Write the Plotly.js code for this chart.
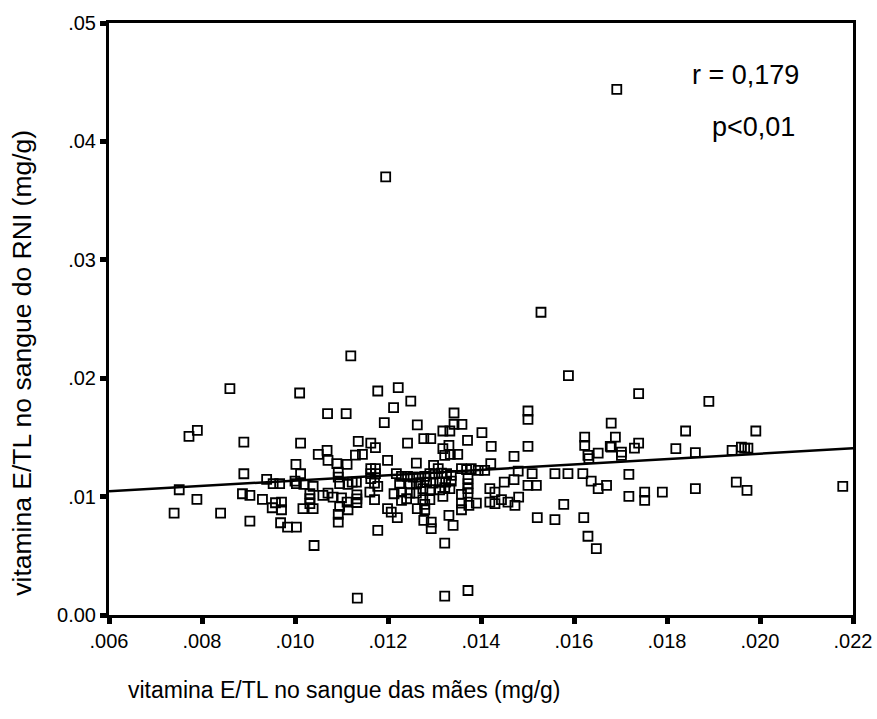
<!DOCTYPE html>
<html>
<head>
<meta charset="utf-8">
<script src="https://cdn.plot.ly/plotly-3.0.1.min.js"></script>
<style>
  html, body { margin: 0; padding: 0; background: #fff; }
  #chart { width: 877px; height: 719px; }
</style>
</head>
<body>
<div id="chart"></div>
<script>
// Maternal vitamin E/TL (mg/g)
const maesX = [
  0.00751,0.00789,0.00740,0.00840,0.00790,0.00772,0.00860,0.00890,0.00890,0.00887,
  0.00903,0.00903,0.00939,0.00953,0.00930,0.00958,0.00951,0.00967,0.00971,0.00969,
  0.00971,0.00984,0.01003,
  0.01010,0.01070,0.01110,0.01120,0.01012,0.01050,0.01069,0.01071,0.01090,0.01112,
  0.01002,0.01012,0.01093,0.01093,0.01000,0.01003,0.01019,0.01039,0.01096,0.01114,
  0.01123,0.01032,0.01032,0.01032,0.01060,0.01071,0.01082,0.01100,0.01017,0.01039,
  0.01096,0.01114,0.01093,0.01093,0.01041,
  0.01136,0.01163,0.01173,0.01242,0.01130,0.01145,0.01199,0.01261,0.01163,0.01173,
  0.01163,0.01173,0.01163,0.01218,0.01229,0.01242,0.01254,0.01266,0.01132,0.01171,
  0.01178,0.01225,0.01247,0.01261,0.01161,0.01213,0.01229,0.01247,0.01261,0.01133,
  0.01133,0.01133,0.01112,0.01171,0.01229,0.01240,0.01199,0.01207,0.01220,0.01178,
  0.01263,0.01178,0.01222,0.01249,0.01212,0.01192,0.01263,0.01134,0.01322,0.01372,
  0.01277,0.01292,0.01318,0.01331,0.01371,0.01342,0.01342,0.01359,0.01318,0.01333,
  0.01402,0.01322,0.01334,0.01350,0.01298,0.01308,0.01358,0.01369,0.01379,0.01279,
  0.01290,0.01301,0.01315,0.01326,0.01336,0.01270,0.01283,0.01297,0.01311,0.01324,
  0.01336,0.01275,0.01290,0.01311,0.01322,0.01333,0.01372,0.01372,0.01372,0.01372,
  0.01358,0.01318,0.01275,0.01290,0.01279,0.01279,0.01358,0.01374,0.01390,0.01358,
  0.01331,0.01340,0.01277,0.01293,0.01293,0.01322,
  0.01422,0.01501,0.01501,0.01501,0.01529,0.01471,0.01421,0.01394,0.01408,0.01480,
  0.01510,0.01450,0.01471,0.01501,0.01519,0.01419,0.01430,0.01419,0.01430,0.01444,
  0.01458,0.01473,0.01481,0.01521,
  0.01588,0.01623,0.01623,0.01630,0.01632,0.01652,0.01678,0.01559,0.01587,0.01619,
  0.01637,0.01652,0.01670,0.01578,0.01559,0.01621,0.01630,0.01648,0.01739,0.01890,
  0.01680,0.01840,0.01991,0.01689,0.01680,0.01702,0.01702,0.01739,0.01730,0.01819,
  0.01861,0.01940,0.01960,0.01967,0.01974,0.01718,0.01718,0.01752,0.01752,0.01790,
  0.01861,0.01949,0.01972,0.02178,0.01692,0.01195
];
// Newborn (RNI) vitamin E/TL (mg/g)
const rniY = [
  0.01058,0.00976,0.00860,0.00860,0.01560,0.01509,0.01912,0.01460,0.01193,0.01024,
  0.01010,0.00793,0.01145,0.01109,0.00976,0.00948,0.00906,0.01109,0.00889,0.00779,
  0.00954,0.00742,0.00742,
  0.01875,0.01700,0.01700,0.02188,0.01452,0.01357,0.01390,0.01306,0.01278,0.01272,
  0.01272,0.01193,0.01207,0.01165,0.01131,0.01109,0.01103,0.01086,0.01109,0.01103,
  0.01122,0.01024,0.00982,0.00940,0.01010,0.01030,0.00996,0.00990,0.00898,0.00898,
  0.00917,0.00889,0.00850,0.00784,0.00587,
  0.01467,0.01452,0.01413,0.01452,0.01350,0.01357,0.01306,0.01283,0.01236,0.01236,
  0.01194,0.01194,0.01152,0.01194,0.01171,0.01171,0.01165,0.01165,0.01122,0.01114,
  0.01086,0.01109,0.01109,0.01109,0.01038,0.01024,0.01038,0.01030,0.01030,0.01015,
  0.00980,0.00950,0.00954,0.00974,0.00968,0.00982,0.00898,0.00869,0.00822,0.00714,
  0.00898,0.01892,0.01920,0.01807,0.01751,0.01625,0.01605,0.00142,0.00159,0.00207,
  0.01489,0.01489,0.01405,0.01433,0.01475,0.01706,0.01610,0.01610,0.01554,0.01554,
  0.01540,0.01348,0.01357,0.01357,0.01264,0.01236,0.01236,0.01227,0.01236,0.01170,
  0.01194,0.01194,0.01199,0.01194,0.01180,0.01118,0.01122,0.01114,0.01122,0.01122,
  0.01131,0.01067,0.01058,0.01058,0.01075,0.01067,0.01151,0.01109,0.01067,0.01030,
  0.01019,0.01002,0.00974,0.00974,0.00934,0.00889,0.00945,0.00926,0.00945,0.00889,
  0.00841,0.00757,0.00799,0.00784,0.00729,0.00607,
  0.01424,0.01424,0.01723,0.01653,0.02557,0.01340,0.01278,0.01221,0.01221,0.01216,
  0.01194,0.01122,0.01143,0.01095,0.01095,0.01067,0.01038,0.00954,0.00940,0.00974,
  0.00954,0.00926,0.00996,0.00822,
  0.02022,0.01503,0.01433,0.01348,0.01320,0.01368,0.01424,0.01194,0.01194,0.01194,
  0.01131,0.01067,0.01095,0.00934,0.00805,0.00822,0.00665,0.00560,0.01870,0.01805,
  0.01621,0.01554,0.01554,0.01503,0.01418,0.01376,0.01348,0.01452,0.01410,0.01405,
  0.01371,0.01391,0.01418,0.01410,0.01410,0.01188,0.01002,0.01038,0.00968,0.01038,
  0.01067,0.01122,0.01052,0.01086,0.04440,0.03701
];

// Fitted regression line
const fitIntercept = 0.00908;
const fitSlope = 0.227;
const fitX = [0.006, 0.022];
const fitY = fitX.map(v => fitIntercept + fitSlope * v);

// Axis ticks
const xTickVals = [0.006,0.008,0.010,0.012,0.014,0.016,0.018,0.020,0.022];
const xTickText = ['.006','.008','.010','.012','.014','.016','.018','.020','.022'];
const yTickVals = [0,0.01,0.02,0.03,0.04,0.05];
const yTickText = ['0.00','.01','.02','.03','.04','.05'];

const statText = ['r = 0,179', 'p<0,01'];
const xTitle = 'vitamina E/TL no sangue das mães (mg/g)';
const yTitle = 'vitamina E/TL no sangue do RNI (mg/g)';

const FONT = 'Liberation Sans, Arial, sans-serif';

const traces = [
  {
    x: maesX, y: rniY, type: 'scatter', mode: 'markers',
    marker: { symbol: 'square-open', size: 9, color: '#000', line: { width: 1.8, color: '#000' } },
    hoverinfo: 'x+y', showlegend: false
  },
  {
    x: fitX, y: fitY, type: 'scatter', mode: 'lines',
    line: { color: '#000', width: 2.5 }, hoverinfo: 'skip', showlegend: false
  }
];

const layout = {
  width: 877, height: 719,
  margin: { l: 109, r: 24, t: 23, b: 104 },
  paper_bgcolor: '#fff', plot_bgcolor: '#fff',
  font: { family: FONT, color: '#000' },
  showlegend: false,
  xaxis: {
    range: [0.006, 0.022], tickvals: xTickVals, ticktext: xTickText,
    ticks: 'outside', ticklen: 6, tickwidth: 5, tickcolor: '#000',
    showline: true, linewidth: 3, linecolor: '#000', mirror: true,
    showgrid: false, zeroline: false,
    tickfont: { family: FONT, size: 20, color: '#000' }
  },
  yaxis: {
    range: [0, 0.05], tickvals: yTickVals, ticktext: yTickText,
    ticks: 'outside', ticklen: 6, tickwidth: 5, tickcolor: '#000',
    showline: true, linewidth: 3, linecolor: '#000', mirror: true,
    showgrid: false, zeroline: false,
    tickfont: { family: FONT, size: 20, color: '#000' }
  },
  annotations: [
    { text: statText[0], xref: 'paper', yref: 'paper', x: 0.93, y: 0.912,
      xanchor: 'right', yanchor: 'middle', showarrow: false,
      font: { family: FONT, size: 27, color: '#000' } },
    { text: statText[1], xref: 'paper', yref: 'paper', x: 0.925, y: 0.824,
      xanchor: 'right', yanchor: 'middle', showarrow: false,
      font: { family: FONT, size: 27, color: '#000' } },
    { text: xTitle, xref: 'paper', yref: 'paper', x: 0.317, y: -0.127,
      xanchor: 'center', yanchor: 'middle', showarrow: false,
      font: { family: FONT, size: 23, color: '#000' } },
    { text: yTitle, xref: 'paper', yref: 'paper', x: -0.117, y: 0.426,
      xanchor: 'center', yanchor: 'middle', textangle: -90, showarrow: false,
      font: { family: FONT, size: 26.5, color: '#000' } }
  ]
};

Plotly.newPlot('chart', traces, layout, { displayModeBar: false, staticPlot: true });
</script>
</body>
</html>
